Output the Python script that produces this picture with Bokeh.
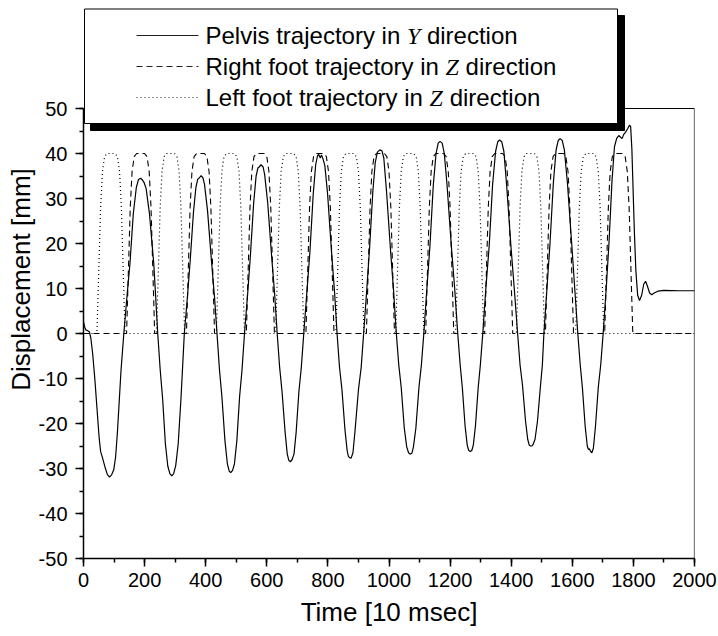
from bokeh.plotting import figure
from bokeh.models import Range1d, FixedTicker
from bokeh.core.properties import value
from bokeh.embed import file_html
from bokeh.resources import INLINE

# ---------------- data ----------------
pelvis_t = [0, 4, 8, 14, 19, 24, 30, 37, 44, 51, 56, 62, 70, 78, 85, 92, 99, 105, 111, 117, 123, 132,
            142, 152, 163, 173, 180, 187, 193, 198, 205, 216, 230, 236, 243,
            251, 259, 268, 276, 283, 289, 295, 302, 310, 319, 324, 330,
            340, 349, 360, 368, 374, 378, 385, 391, 396, 406, 419, 429, 437,
            445, 453, 463, 471, 477, 482, 488, 494, 502, 511, 519, 527,
            537, 546, 557, 565, 571, 575, 581, 588, 593, 603, 616, 626, 634,
            642, 650, 660, 667, 672, 677, 683, 689, 696, 705, 713, 721,
            731, 741, 752, 760, 766, 770, 775, 779, 784, 790, 799, 812, 822, 830,
            838, 846, 856, 863, 867, 871, 876, 882, 889, 900, 909, 917,
            927, 936, 947, 955, 962, 970, 977, 983, 992, 1005, 1015, 1024,
            1032, 1040, 1050, 1058, 1064, 1069, 1075, 1080, 1088, 1098, 1106, 1114,
            1124, 1134, 1145, 1154, 1161, 1167, 1174, 1181, 1190, 1204, 1215, 1225,
            1233, 1240, 1249, 1256, 1261, 1266, 1271, 1276, 1283, 1292, 1299, 1307,
            1317, 1328, 1339, 1349, 1356, 1362, 1369, 1376, 1385, 1399, 1410, 1421,
            1429, 1437, 1447, 1454, 1459, 1463, 1468, 1472, 1478, 1486, 1496, 1502, 1507,
            1517, 1527, 1538, 1547, 1554, 1560, 1567, 1574, 1584, 1598, 1608, 1618,
            1626, 1633, 1642, 1649, 1653, 1656, 1660, 1664, 1669, 1676, 1685, 1693, 1701,
            1711, 1720, 1730, 1738, 1745, 1752, 1758, 1763, 1768, 1775, 1781, 1787, 1791,
            1795, 1799, 1803, 1808, 1814, 1820, 1827, 1834, 1840, 1846, 1853, 1860, 1868,
            1880, 1900, 1950, 2000]
pelvis_y = [2.6, 1.4, 0.8, 0.6, 0.4, -1.0, -4.5, -10, -16.5, -23, -26.2, -27.6, -29.6, -31.3, -31.9, -31.4, -30.3, -27.5, -22, -15, -8, 0,
            8, 15.5, 26.6, 32.5, 34.2, 34.5, 34.1, 33.6, 32.2, 26.6, 15.5, 8.5, 0,
            -8, -14.5, -24.5, -29.5, -31.2, -31.6, -31.2, -29.3, -24.5, -14.5, -8, 0,
            8, 16, 27, 32.5, 34.3, 34.5, 35.1, 34.6, 33.2, 27.3, 16, 8, 0,
            -8, -14, -23.8, -29, -30.6, -30.9, -30.4, -29, -23.8, -14, -8, 0,
            8.5, 17, 29, 35, 36.8, 37, 37.5, 37, 35.3, 29, 17, 8.5, 0,
            -7.5, -13, -22, -26.8, -28.2, -28.5, -28, -26.8, -22, -13, -7.5, 0,
            9, 18, 31, 37.5, 39.5, 39.8, 39.0, 39.7, 38.8, 37.3, 31, 18, 9, 0,
            -7.5, -12.5, -21.5, -26, -27.3, -27.6, -27.7, -26.5, -21.5, -12.5, -7.5, 0,
            9.5, 18.5, 31.5, 38, 40.3, 40.8, 40.6, 39, 31.5, 18.5, 9.5, 0,
            -7, -12, -21, -25.2, -26.5, -26.8, -26.6, -25.2, -21, -12, -7, 0,
            10, 19.5, 33, 40, 42.3, 42.7, 42.3, 40, 33, 19.5, 10, 0,
            -7, -12, -20.5, -24.8, -26, -26.2, -26, -24.8, -20.5, -12, -7, 0,
            10, 19.5, 33, 40.5, 42.6, 43, 42.6, 40.5, 33, 19.5, 10, 0,
            -7, -11.5, -19.5, -23.5, -24.8, -25, -25, -24.6, -23.5, -19.5, -11.5, -7, 0,
            10, 20, 33.5, 40.8, 42.9, 43.3, 42.9, 40.8, 33.5, 20, 10, 0,
            -7, -12, -20.5, -25, -25.8, -25.6, -26.2, -26.5, -25.5, -20.5, -12, -7, 0,
            10, 20, 34, 41.5, 43.3, 44.0, 43.6, 43.3, 44.2, 44.8, 45.5, 46.3, 46.0,
            41, 32, 23, 14, 8.5, 7.3, 8.5, 11, 11.6, 10.5, 9, 8.6, 9.0,
            9.4, 9.6, 9.5, 9.5]

# shape of one foot lift (time offset from the pulse centre, height in mm)
foot_profile_dt = [-46, -40, -34, -28, -21, -13, 13, 21, 28, 34, 40, 46]
foot_profile_z = [0, 14, 28, 36, 39.3, 40, 40, 39.3, 36, 28, 14, 0]
right_foot_centers = [187, 383, 579, 774, 972, 1166, 1359, 1558, 1752]
left_foot_centers = [90, 285, 481, 675, 872, 1068, 1264, 1463, 1657]

x_ticks = [0, 200, 400, 600, 800, 1000, 1200, 1400, 1600, 1800, 2000]
y_ticks = [-50, -40, -30, -20, -10, 0, 10, 20, 30, 40, 50]
legend_pre = ["Pelvis trajectory in", "Right foot trajectory in", "Left foot trajectory in"]
legend_var = ["Y", "Z", "Z"]
legend_post = ["direction", "direction", "direction"]
legend_dash = ["solid", "6 4", "1 3"]

X_MIN, X_MAX = 0, 2000
Y_MIN, Y_MAX = -50, 50


def foot_series(centers):
    t, z = [X_MIN], [0]
    for c in centers:
        t += [c + d for d in foot_profile_dt]
        z += list(foot_profile_z)
    t.append(X_MAX)
    z.append(0)
    return t, z


right_t, right_z = foot_series(right_foot_centers)
left_t, left_z = foot_series(left_foot_centers)

# ---------------- layout (canvas px == page px) ----------------
W, H = 718, 634
F_LEFT, F_RIGHT = 83, 694
F_TOP, F_BOTTOM = 0, 558
PX_Y50 = 108
ypp = (Y_MAX - Y_MIN) / (F_BOTTOM - PX_Y50)
xpp = (X_MAX - X_MIN) / (F_RIGHT - F_LEFT)
Y_TOP = Y_MAX + (PX_Y50 - F_TOP) * ypp


def dx(px):  # page px -> data x
    return X_MIN + (px - F_LEFT) * xpp


def dy(py):  # page px -> data y
    return Y_MAX - (py - PX_Y50) * ypp


p = figure(width=W, height=H, output_backend="svg", toolbar_location=None,
           x_range=Range1d(X_MIN, X_MAX), y_range=Range1d(Y_MIN, Y_TOP),
           min_border_left=F_LEFT, min_border_right=W - F_RIGHT,
           min_border_top=F_TOP, min_border_bottom=H - F_BOTTOM,
           x_axis_label="Time [10 msec]", y_axis_label="Displacement [mm]")
p.outline_line_color = None
p.grid.visible = False
p.background_fill_color = "white"
p.border_fill_color = "white"

p.xaxis.ticker = FixedTicker(ticks=x_ticks, minor_ticks=list(range(X_MIN, X_MAX + 1, 100)))
p.yaxis.ticker = FixedTicker(ticks=y_ticks, minor_ticks=list(range(Y_MIN, Y_MAX + 1, 5)))
p.yaxis.major_label_overrides = {v: str(v) for v in y_ticks}
p.xaxis.major_label_overrides = {v: str(v) for v in x_ticks}
p.yaxis.bounds = (Y_MIN, Y_MAX)
for ax in (p.xaxis, p.yaxis):
    ax.axis_line_color = "black"
    ax.axis_line_width = 1.5
    ax.major_tick_line_color = "black"
    ax.major_tick_line_width = 1.5
    ax.minor_tick_line_color = "black"
    ax.minor_tick_line_width = 1.5
    ax.major_tick_out = 8
    ax.major_tick_in = 0
    ax.minor_tick_out = 4
    ax.minor_tick_in = 0
    ax.major_label_text_font = "Liberation Sans"
    ax.major_label_text_font_size = "20px"
    ax.major_label_text_color = "black"
    ax.axis_label_text_font = "Liberation Sans"
    ax.axis_label_text_font_size = "26px"
    ax.axis_label_text_font_style = "normal"
    ax.axis_label_text_color = "black"
p.yaxis.major_label_standoff = 8
p.yaxis.axis_label_standoff = 0
p.xaxis.major_label_standoff = 6
p.xaxis.axis_label_standoff = 7

# frame top / right
p.line([X_MIN, X_MAX], [Y_MAX, Y_MAX], line_color="black", line_width=1)
p.line([X_MAX, X_MAX], [Y_MIN, Y_MAX], line_color="black", line_width=1.2)

# data
p.line(left_t, left_z, line_color="black", line_width=1.2, line_dash="1 3")
p.line(right_t, right_z, line_color="black", line_width=1.1, line_dash="6 4")
p.line(pelvis_t, pelvis_y, line_color="black", line_width=1.2)

# legend box with shadow
p.quad(left=[dx(90)], right=[dx(624)], top=[dy(15)], bottom=[dy(130)],
       fill_color="black", line_color="black")
p.quad(left=[dx(84)], right=[dx(617)], top=[dy(8.5)], bottom=[dy(123)],
       fill_color="white", line_color="black", line_width=1)

# text widths (Arial / Liberation Sans metrics, per 1000 em)
AW = {' ': 278, 'P': 667, 'e': 556, 'l': 222, 'v': 500, 'i': 222, 's': 500, 't': 278,
      'r': 333, 'a': 556, 'j': 222, 'c': 500, 'o': 556, 'y': 500, 'n': 556, 'd': 556,
      'R': 722, 'g': 556, 'h': 556, 'f': 278, 'L': 556}
FS = 24
VAR_W = 556 * FS / 1000.0
SP = 278 * FS / 1000.0


def tw(s):
    return sum(AW.get(ch, 556) for ch in s) * FS / 1000.0


rows_y = [35, 66, 97]
for i in range(3):
    yy = dy(rows_y[i])
    p.line([dx(136), dx(198)], [yy, yy], line_color="#222222", line_width=1.1,
           line_dash=legend_dash[i])
    x0 = 205
    x1 = x0 + tw(legend_pre[i]) + SP
    x2 = x1 + VAR_W + SP
    p.text(x=[dx(x0)], y=[yy], text=[legend_pre[i]], text_font=value("Liberation Sans"),
           text_font_size=f"{FS}px", text_baseline="middle", text_align="left", text_color="black")
    p.text(x=[dx(x1)], y=[yy], text=[legend_var[i]], text_font=value("Liberation Serif"),
           text_font_style="italic", text_font_size=f"{FS}px", text_baseline="middle",
           text_align="left", text_color="black")
    p.text(x=[dx(x2)], y=[yy], text=[legend_post[i]], text_font=value("Liberation Sans"),
           text_font_size=f"{FS}px", text_baseline="middle", text_align="left", text_color="black")

open("out.html", "w").write(file_html(p, INLINE))
